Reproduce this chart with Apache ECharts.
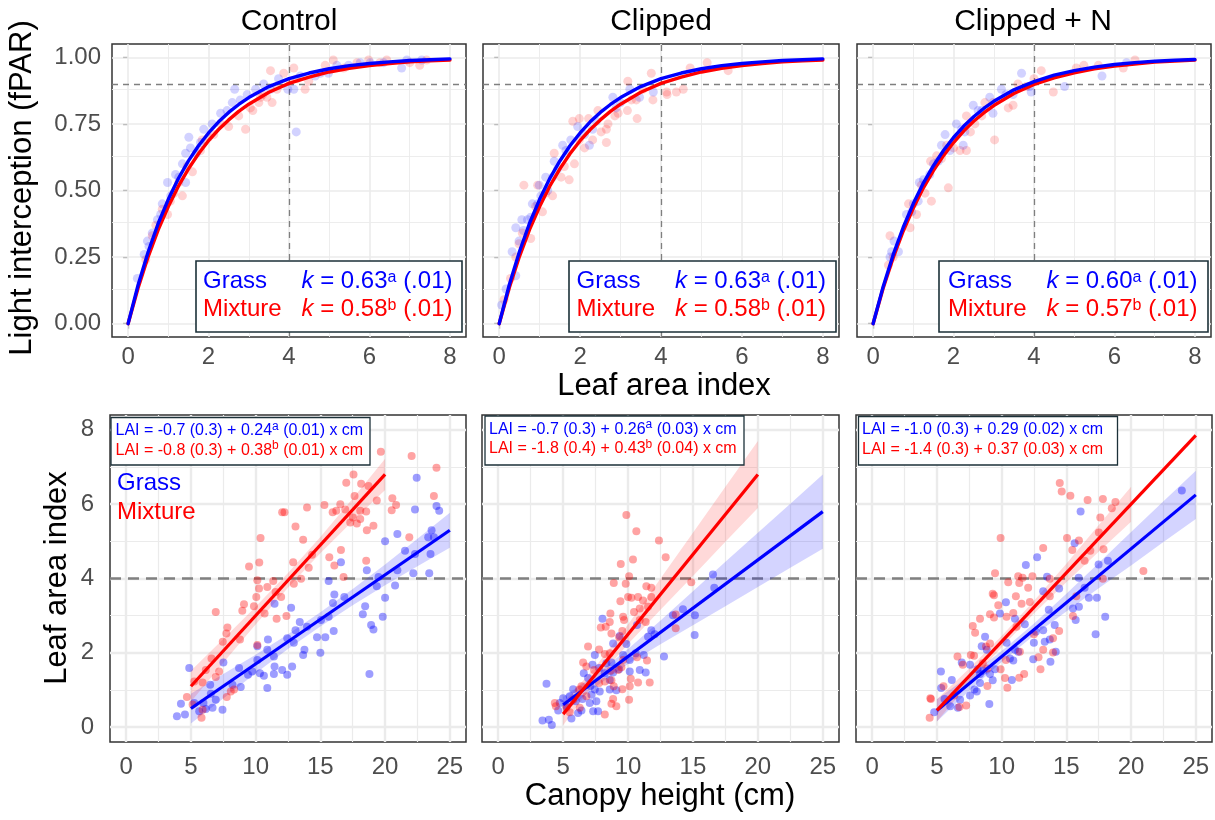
<!DOCTYPE html>
<html>
<head>
<meta charset="UTF-8">
<title>Light interception and LAI</title>
<script src="https://cdn.jsdelivr.net/npm/echarts@6.0.0/dist/echarts.min.js"></script>
</head>
<body style="margin:0; background:#fff">
<div id="container" style="width:1215px; height:820px"></div>
<script>
var FONT = '"Liberation Sans", Arial, Helvetica, sans-serif';
var BLUE = '#0000ff', RED = '#ff0000';

// ---------- top row: fPAR vs LAI ----------
var panelNames = ['Control', 'Clipped', 'Clipped + N'];

var fparX = [0, 0.25, 0.5, 0.75, 1, 1.25, 1.5, 1.75, 2, 2.25, 2.5, 2.75, 3, 3.5, 4, 4.5, 5, 5.5, 6, 6.5, 7, 7.5, 8];
var ctlGrassCurve = [0, 0.146, 0.270, 0.377, 0.467, 0.545, 0.611, 0.668, 0.716, 0.758, 0.793, 0.823, 0.849, 0.890, 0.920, 0.941, 0.957, 0.969, 0.977, 0.983, 0.988, 0.991, 0.994];
var ctlMixCurve = [0, 0.135, 0.252, 0.353, 0.440, 0.516, 0.581, 0.638, 0.687, 0.729, 0.765, 0.797, 0.824, 0.869, 0.902, 0.926, 0.945, 0.959, 0.969, 0.977, 0.983, 0.987, 0.990];
var clpGrassCurve = [0, 0.146, 0.270, 0.377, 0.467, 0.545, 0.611, 0.668, 0.716, 0.758, 0.793, 0.823, 0.849, 0.890, 0.920, 0.941, 0.957, 0.969, 0.977, 0.983, 0.988, 0.991, 0.994];
var clpMixCurve = [0, 0.135, 0.252, 0.353, 0.440, 0.516, 0.581, 0.638, 0.687, 0.729, 0.765, 0.797, 0.824, 0.869, 0.902, 0.926, 0.945, 0.959, 0.969, 0.977, 0.983, 0.987, 0.990];
var cnGrassCurve = [0, 0.139, 0.259, 0.362, 0.451, 0.528, 0.593, 0.650, 0.699, 0.741, 0.777, 0.808, 0.835, 0.878, 0.909, 0.933, 0.950, 0.963, 0.973, 0.980, 0.985, 0.989, 0.992];
var cnMixCurve = [0, 0.133, 0.248, 0.348, 0.434, 0.510, 0.575, 0.631, 0.680, 0.723, 0.760, 0.791, 0.819, 0.864, 0.898, 0.923, 0.942, 0.957, 0.967, 0.975, 0.982, 0.986, 0.990];

var ctlGrassPts = [[0.23,0.17],[0.40,0.26],[0.48,0.31],[0.52,0.29],[0.60,0.34],[0.73,0.39],[0.81,0.41],[0.85,0.45],[0.98,0.53],[1.06,0.48],[1.18,0.56],[1.26,0.55],[1.35,0.60],[1.43,0.53],[1.51,0.70],[1.43,0.64],[1.55,0.66],[1.70,0.64],[1.80,0.68],[1.88,0.73],[2.09,0.75],[2.30,0.79],[2.46,0.80],[2.59,0.83],[2.65,0.88],[2.79,0.84],[2.96,0.86],[3.17,0.88],[3.37,0.90],[3.54,0.88],[3.74,0.92],[3.97,0.88],[4.12,0.88],[4.18,0.72],[4.28,0.93],[4.65,0.93],[4.78,0.94],[4.98,0.94],[5.19,0.97],[5.48,0.97],[5.77,0.98],[6.02,0.98],[6.35,0.98],[6.80,0.96],[6.93,0.99],[7.30,0.99]];
var ctlMixPts = [[0.44,0.24],[0.60,0.33],[0.69,0.37],[0.85,0.43],[0.98,0.41],[1.05,0.46],[1.14,0.49],[1.26,0.53],[1.35,0.48],[1.47,0.59],[1.60,0.57],[1.80,0.65],[1.84,0.69],[2.00,0.70],[2.13,0.71],[2.30,0.75],[2.50,0.74],[2.75,0.78],[2.92,0.73],[3.04,0.81],[3.10,0.80],[3.25,0.83],[3.29,0.85],[3.35,0.86],[3.45,0.85],[3.54,0.95],[3.58,0.83],[3.70,0.88],[3.87,0.94],[4.03,0.91],[4.12,0.96],[4.20,0.92],[4.40,0.88],[4.49,0.91],[4.90,0.97],[5.10,0.99],[5.36,0.96],[5.69,0.98],[5.98,0.99],[6.26,0.98],[6.43,0.99],[7.00,0.98],[7.25,0.97],[7.42,0.99]];
var clpGrassPts = [[0.06,0.07],[0.17,0.13],[0.41,0.18],[0.32,0.27],[0.49,0.31],[0.41,0.36],[0.56,0.39],[0.60,0.35],[0.70,0.39],[0.78,0.40],[0.82,0.45],[0.95,0.45],[1.03,0.48],[0.99,0.52],[1.15,0.55],[1.20,0.50],[1.32,0.55],[1.36,0.61],[1.44,0.58],[1.57,0.67],[1.65,0.65],[1.77,0.69],[1.94,0.74],[2.11,0.71],[2.23,0.67],[2.31,0.73],[2.40,0.76],[2.81,0.85],[2.89,0.81],[3.00,0.83],[3.23,0.88],[3.47,0.85],[3.81,0.87]];
var clpMixPts = [[0.12,0.09],[0.28,0.17],[0.41,0.25],[0.49,0.30],[0.57,0.34],[0.78,0.32],[0.61,0.52],[0.95,0.52],[0.90,0.44],[1.07,0.42],[1.15,0.49],[1.32,0.48],[1.36,0.64],[1.53,0.55],[1.61,0.59],[1.73,0.54],[1.86,0.60],[1.82,0.76],[1.98,0.77],[1.98,0.69],[2.11,0.66],[2.21,0.77],[2.31,0.69],[2.44,0.80],[2.52,0.72],[2.65,0.73],[2.69,0.75],[2.65,0.68],[2.86,0.78],[2.94,0.79],[3.17,0.80],[3.27,0.84],[3.39,0.84],[3.41,0.77],[3.18,0.91],[3.55,0.88],[3.76,0.94],[3.80,0.84],[4.14,0.87],[4.15,0.86],[4.38,0.87],[4.55,0.88],[4.72,0.96],[5.14,0.98],[5.66,0.95]];
var cnGrassPts = [[0.42,0.25],[0.46,0.27],[0.63,0.27],[0.52,0.31],[0.83,0.41],[0.96,0.42],[1.00,0.45],[1.12,0.46],[1.15,0.53],[1.25,0.54],[1.41,0.56],[1.50,0.60],[1.62,0.61],[1.70,0.67],[1.79,0.71],[1.91,0.65],[2.07,0.75],[2.20,0.73],[2.24,0.67],[2.28,0.72],[2.49,0.82],[2.61,0.80],[2.70,0.80],[2.90,0.85],[2.98,0.79],[3.19,0.88],[3.30,0.86],[3.48,0.86],[3.69,0.94],[3.89,0.89],[3.93,0.87],[4.76,0.89],[5.69,0.93],[6.30,0.98]];
var cnMixPts = [[0.38,0.22],[0.42,0.33],[0.50,0.25],[0.88,0.45],[0.92,0.36],[1.08,0.41],[1.20,0.52],[1.29,0.49],[1.45,0.46],[1.43,0.61],[1.58,0.63],[1.70,0.62],[1.87,0.51],[1.83,0.67],[2.00,0.66],[2.16,0.65],[2.32,0.65],[2.42,0.72],[2.53,0.75],[2.32,0.78],[2.70,0.78],[2.78,0.83],[3.02,0.69],[2.98,0.83],[3.36,0.81],[3.48,0.82],[3.60,0.90],[3.81,0.89],[4.00,0.92],[4.18,0.95],[4.48,0.87],[5.05,0.96],[5.24,0.97],[5.60,0.97],[6.22,0.96],[6.51,0.99]];

// k estimates shown in the boxes: [grass k, grass letter, mixture k, mixture letter]
var kLabels = [['0.63', 'a', '0.58', 'b'], ['0.63', 'a', '0.58', 'b'], ['0.60', 'a', '0.57', 'b']];
var kSE = '(.01)';

// ---------- bottom row: LAI vs canopy height ----------
var ctlGrassLai = [[22.44,6.71],[23.97,5.95],[24.18,5.82],[22.31,5.86],[20.0,5.0],[20.95,5.2],[23.59,5.3],[23.33,5.11],[23.77,5.11],[21.54,4.75],[23.51,4.66],[22.31,4.66],[20.95,4.22],[22.18,4.14],[23.41,4.14],[18.59,4.22],[16.59,4.44],[19.49,4.04],[19.36,3.79],[20.77,3.81],[20.0,3.48],[15.64,3.93],[16.08,3.57],[16.85,3.5],[15.97,3.34],[18.46,3.25],[18.28,3.04],[19.82,2.97],[18.92,2.75],[19.1,2.63],[18.79,1.43],[15.64,2.97],[15.05,2.88],[13.41,2.83],[13.08,2.61],[13.97,2.7],[14.74,2.42],[15.38,2.42],[16.03,2.59],[12.44,2.39],[12.95,2.27],[13.77,2.08],[15.0,2.0],[13.67,1.94],[11.46,3.32],[12.74,3.21],[10.95,2.36],[10.13,2.18],[10.9,2.08],[11.41,1.9],[10.13,1.81],[11.46,1.63],[12.82,1.63],[12.05,1.54],[12.44,1.41],[11.41,1.43],[10.64,1.38],[9.74,1.5],[9.41,1.41],[10.33,1.45],[8.72,1.59],[10.9,1.05],[8.85,1.08],[8.21,1.14],[7.51,1.74],[4.87,1.59],[6.49,1.14],[6.54,0.9],[6.92,0.74],[7.44,0.47],[6.67,0.52],[5.97,0.65],[5.26,0.65],[4.23,0.63],[4.54,0.34],[3.92,0.29],[5.64,0.43],[6.15,0.49]];
var ctlMixLai = [[19.67,7.41],[22.05,7.3],[23.97,6.98],[17.56,6.8],[17.0,6.58],[18.15,6.55],[18.72,6.49],[17.64,6.22],[20.56,6.16],[20.85,5.98],[19.36,6.1],[23.77,6.22],[16.54,6.0],[16.92,5.86],[18.08,5.82],[18.54,5.8],[15.95,5.78],[16.23,5.82],[15.31,5.98],[13.97,5.91],[12.05,5.78],[12.23,5.78],[17.51,5.64],[18.08,5.6],[17.31,5.51],[17.82,5.48],[19.1,5.42],[18.59,5.3],[20.51,5.84],[21.87,5.11],[13.08,5.4],[10.38,5.09],[13.67,5.04],[16.59,4.77],[14.36,4.64],[15.69,4.57],[12.9,4.44],[16.08,4.35],[14.1,4.29],[9.49,4.32],[10.28,4.43],[18.54,4.48],[16.79,4.04],[13.51,3.99],[12.95,3.86],[11.36,3.93],[10.9,3.77],[10.26,3.73],[10.13,3.95],[11.54,3.64],[11.97,3.5],[10.05,3.5],[9.1,3.31],[8.97,3.13],[9.87,3.25],[10.69,3.06],[11.62,2.92],[12.38,2.99],[6.92,3.1],[7.82,2.68],[7.74,2.52],[7.46,2.3],[8.79,2.36],[10.13,2.21],[6.59,1.85],[7.18,1.5],[6.15,1.54],[6.92,1.35],[5.9,1.2],[5.26,1.23],[4.69,0.81],[5.13,0.61],[5.9,0.47],[5.82,0.25],[7.77,0.81],[8.08,0.96],[8.33,1.01]];
var clpGrassLai = [[16.54,4.11],[16.64,3.75],[14.23,3.17],[13.46,3.01],[15.15,3.01],[15.13,2.48],[8.03,2.92],[10.69,2.75],[11.79,2.61],[12.05,2.5],[11.54,2.43],[9.36,2.45],[8.85,2.25],[9.87,2.24],[12.77,1.9],[7.44,1.94],[8.33,1.72],[8.72,1.74],[9.62,1.94],[10.13,1.81],[10.59,1.99],[11.21,1.94],[7.26,1.68],[7.77,1.59],[6.59,1.45],[6.92,1.32],[7.1,1.11],[8.21,1.45],[8.59,1.27],[9.31,1.56],[10.13,1.5],[10.9,1.54],[11.36,1.47],[7.82,0.96],[7.44,1.01],[7.18,0.87],[5.77,1.02],[5.51,0.83],[5.0,0.78],[5.97,0.7],[6.49,0.76],[4.74,0.65],[5.26,0.56],[4.62,0.45],[7.05,0.65],[7.56,0.7],[7.31,0.43],[7.69,0.43],[6.41,0.45],[6.15,0.38],[5.64,0.23],[3.72,1.17],[3.41,0.18],[3.9,0.2],[4.13,0.06],[8.59,1.01],[9.1,0.99],[8.85,1.47]];
var clpMixLai = [[9.87,5.71],[10.64,5.27],[12.38,5.02],[12.9,4.57],[9.44,4.39],[10.38,4.51],[10.08,4.06],[8.9,3.88],[9.82,3.86],[14.87,3.9],[11.41,3.79],[11.79,3.75],[10.0,3.5],[10.26,3.48],[10.77,3.5],[11.15,3.41],[11.79,3.5],[9.41,3.39],[11.54,3.24],[10.9,3.19],[10.46,3.1],[8.64,3.06],[9.62,2.97],[9.69,2.88],[10.9,2.88],[11.36,2.83],[8.59,2.83],[7.9,2.68],[8.28,2.7],[8.72,2.52],[9.56,2.59],[9.31,2.42],[13.67,3.03],[13.67,2.66],[6.92,2.17],[7.77,2.09],[8.21,1.97],[8.59,1.99],[6.54,1.74],[6.79,1.63],[7.38,1.54],[8.64,1.52],[9.23,1.54],[9.49,1.61],[11.46,1.79],[10.69,1.88],[9.62,1.81],[7.77,1.19],[8.21,1.23],[8.72,1.26],[8.9,1.1],[9.56,1.02],[10.13,1.1],[10.21,1.3],[10.77,1.2],[11.67,1.2],[6.23,1.01],[6.79,0.83],[6.41,1.1],[10.08,0.74],[8.85,0.76],[8.72,0.63],[9.1,0.56],[4.36,0.65],[4.44,0.56],[5.51,0.4],[5.26,0.52],[6.28,0.52],[8.21,0.34],[5.77,0.74]];
var cnGrassLai = [[23.92,6.37],[16.1,5.8],[15.64,4.95],[17.49,4.38],[18.21,4.48],[12.74,4.57],[11.87,4.36],[13.51,4.05],[15.95,4.02],[16.41,3.75],[14.44,3.73],[13.21,3.66],[16.74,3.48],[17.36,3.48],[15.97,3.24],[15.51,3.19],[15.72,2.88],[18.0,2.97],[17.26,2.5],[13.64,3.16],[14.1,2.75],[13.21,2.61],[9.87,3.06],[10.33,3.36],[11.03,2.92],[11.79,2.77],[12.64,2.57],[13.33,2.3],[13.72,2.36],[12.49,2.27],[14.18,2.03],[8.72,2.43],[8.46,2.18],[8.85,2.08],[10.38,2.27],[11.03,2.08],[11.28,2.03],[10.64,1.85],[10.9,1.79],[12.44,1.83],[13.77,1.76],[6.92,1.74],[7.56,1.68],[8.13,1.56],[8.59,1.52],[9.1,1.43],[9.31,1.26],[8.33,1.19],[7.9,1.01],[7.56,0.85],[8.08,0.96],[6.79,0.74],[6.15,1.27],[5.31,1.5],[5.33,1.05],[5.59,0.76],[6.03,0.56],[6.62,0.52],[4.79,0.4],[9.05,0.62],[10.79,1.27],[8.33,1.43],[9.49,1.56]];
var cnMixLai = [[14.49,6.57],[14.64,6.34],[15.31,6.23],[16.64,6.11],[17.82,6.14],[18.79,6.06],[18.51,5.89],[17.62,5.64],[17.51,5.24],[17.87,4.79],[15.05,5.09],[15.97,5.02],[15.46,4.77],[16.85,4.75],[16.41,4.48],[13.21,4.82],[9.92,5.09],[20.95,4.2],[17.82,3.99],[9.49,4.14],[10.51,3.9],[11.28,4.06],[11.62,4.02],[12.38,4.06],[13.72,3.99],[11.36,3.88],[12.05,3.75],[11.1,3.52],[9.31,3.59],[9.41,3.55],[9.74,3.28],[11.54,3.32],[12.18,3.37],[13.72,3.52],[15.77,3.52],[9.1,3.04],[9.41,2.95],[8.33,2.92],[7.77,2.72],[7.95,2.54],[10.38,2.97],[10.9,3.07],[11.15,2.7],[12.49,2.5],[14.44,2.59],[15.51,2.99],[13.97,2.39],[13.21,2.08],[13.97,2.01],[12.85,1.88],[13.0,1.56],[11.41,2.03],[9.1,2.25],[8.79,2.17],[7.87,1.92],[7.62,1.94],[6.59,1.9],[7.0,1.68],[8.54,1.72],[8.9,1.58],[10.33,1.81],[9.92,1.56],[10.26,1.32],[10.44,1.06],[11.36,1.33],[11.74,1.43],[8.9,1.11],[4.49,0.78],[4.54,0.76],[4.44,0.25],[6.33,0.85],[6.74,0.54],[7.26,0.58],[5.51,1.1]];

// fitted lines (end points) and their confidence bands
var ctlGrassFit = [[5, 0.5], [25, 5.3]];
var ctlMixFit = [[5, 1.1], [20, 6.8]];
var clpGrassFit = [[5, 0.6], [25, 5.8]];
var clpMixFit = [[5, 0.35], [20, 6.8]];
var cnGrassFit = [[5, 0.45], [25, 6.25]];
var cnMixFit = [[5, 0.45], [25, 7.85]];

var bandX25 = [5, 7.5, 10, 12.5, 15, 17.5, 20, 22.5, 25];
var bandX20 = [5, 7.5, 10, 12.5, 15, 17.5, 20];
var ctlGrassLo = [0.1, 0.77, 1.45, 2.1, 2.71, 3.28, 3.82, 4.33, 4.83];
var ctlGrassHi = [0.9, 1.43, 1.95, 2.5, 3.09, 3.72, 4.38, 5.07, 5.77];
var ctlMixLo = [0.68, 1.73, 2.76, 3.75, 4.68, 5.55, 6.38];
var ctlMixHi = [1.52, 2.37, 3.24, 4.15, 5.12, 6.15, 7.22];
var clpGrassLo = [0.38, 1.09, 1.7, 2.23, 2.74, 3.25, 3.77, 4.29, 4.8];
var clpGrassHi = [0.82, 1.41, 2.1, 2.87, 3.66, 4.45, 5.23, 6.01, 6.8];
var clpMixLo = [0.05, 1.23, 2.24, 3.16, 4.07, 4.99, 5.9];
var clpMixHi = [0.65, 1.63, 2.76, 4.0, 5.23, 6.47, 7.7];
var cnGrassLo = [0.15, 0.98, 1.75, 2.47, 3.11, 3.74, 4.35, 4.98, 5.6];
var cnGrassHi = [0.75, 1.38, 2.05, 2.79, 3.59, 4.42, 5.25, 6.08, 6.9];
var cnMixLo = [0.15, 1.18, 2.15, 3.06, 3.9, 4.72, 5.53];
var cnMixHi = [0.75, 1.58, 2.45, 3.4, 4.4, 5.44, 6.47];

// regression equations: [text before superscript, superscript, text after]
var eqGrass = [['LAI = -0.7 (0.3) + 0.24', 'a', ' (0.01) x cm'], ['LAI = -0.7 (0.3) + 0.26', 'a', ' (0.03) x cm'], ['LAI = -1.0 (0.3) + 0.29', '', ' (0.02) x cm']];
var eqMix = [['LAI = -0.8 (0.3) + 0.38', 'b', ' (0.01) x cm'], ['LAI = -1.8 (0.4) + 0.43', 'b', ' (0.04) x cm'], ['LAI = -1.4 (0.3) + 0.37', '', ' (0.03) x cm']];

var topXTicks = [0, 2, 4, 6, 8], topYTicks = [0, 0.25, 0.5, 0.75, 1];
var topXMinor = [1, 3, 5, 7], topYMinor = [0.125, 0.375, 0.625, 0.875];
var botXTicks = [0, 5, 10, 15, 20, 25], botYTicks = [0, 2, 4, 6, 8];
var botXMinor = [2.5, 7.5, 12.5, 17.5, 22.5], botYMinor = [1, 3, 5, 7];

// ---------- layout ----------
var grids = [
    {left: 112, top: 44, width: 354, height: 293},
    {left: 483, top: 44, width: 356, height: 293},
    {left: 857, top: 44, width: 354, height: 293},
    {left: 110, top: 415, width: 356, height: 327},
    {left: 482, top: 415, width: 357, height: 327},
    {left: 856, top: 415, width: 356, height: 327}
];
grids.forEach(function (g) {
    g.show = true;
    g.borderColor = '#333333';
    g.borderWidth = 1.5;
    g.backgroundColor = 'transparent';
    g.containLabel = false;
});

var xAxes = [], yAxes = [];
grids.forEach(function (g, i) {
    var top = i < 3;
    var showY = (i === 0 || i === 3);
    xAxes.push({
        type: 'value', gridIndex: i,
        min: top ? -0.4 : -1.25, max: top ? 8.4 : 26.25,
        axisLine: {show: false},
        axisTick: {show: true, length: top ? 5 : 8, customValues: top ? topXTicks : botXTicks,
            lineStyle: {color: '#333333', width: top ? 1.2 : 1.5}},
        axisLabel: {show: true, customValues: top ? topXTicks : botXTicks, color: '#4d4d4d',
            fontSize: 24, fontFamily: FONT, margin: top ? 8 : 13},
        splitLine: {show: false}
    });
    yAxes.push({
        type: 'value', gridIndex: i,
        min: top ? -0.05 : -0.4, max: top ? 1.05 : 8.4,
        axisLine: {show: false},
        axisTick: {show: true, length: top ? 5 : 8, customValues: top ? topYTicks : botYTicks,
            lineStyle: {color: '#333333', width: top ? 1.2 : 1.5}},
        axisLabel: {show: showY, customValues: top ? topYTicks : botYTicks, color: '#4d4d4d',
            fontSize: 24, fontFamily: FONT, margin: top ? 11 : 16,
            formatter: top ? function (v) { return v.toFixed(2); } : null},
        splitLine: {show: false}
    });
});

function gridLines(top) {
    var majW = top ? 1.6 : 2.4, minW = top ? 0.9 : 1.2;
    var d = [];
    (top ? topXMinor : botXMinor).forEach(function (v) { d.push({xAxis: v, lineStyle: {color: '#ebebeb', width: minW, type: 'solid'}}); });
    (top ? topYMinor : botYMinor).forEach(function (v) { d.push({yAxis: v, lineStyle: {color: '#ebebeb', width: minW, type: 'solid'}}); });
    (top ? topXTicks : botXTicks).forEach(function (v) { d.push({xAxis: v, lineStyle: {color: '#ebebeb', width: majW, type: 'solid'}}); });
    (top ? topYTicks : botYTicks).forEach(function (v) { d.push({yAxis: v, lineStyle: {color: '#ebebeb', width: majW, type: 'solid'}}); });
    if (top) {
        d.push({xAxis: 4, lineStyle: {color: '#7f7f7f', width: 1.3, type: [6, 5]}});
        d.push({yAxis: 0.9, lineStyle: {color: '#7f7f7f', width: 1.3, type: [6, 5]}});
    } else {
        d.push({yAxis: 4, lineStyle: {color: '#808080', width: 2.6, type: [11, 7]}});
    }
    return {silent: true, z: 1, symbol: ['none', 'none'], label: {show: false},
        emphasis: {disabled: true}, animation: false, data: d};
}

function pts(i, data, color, size, withGrid) {
    var s = {type: 'scatter', xAxisIndex: i, yAxisIndex: i, data: data, symbolSize: size,
        itemStyle: {color: color, borderWidth: 0}, silent: true};
    if (withGrid) s.markLine = gridLines(i < 3);
    return s;
}

function curve(i, ys, color) {
    return {type: 'line', xAxisIndex: i, yAxisIndex: i, silent: true,
        data: fparX.map(function (x, j) { return [x, ys[j]]; }),
        showSymbol: false, smooth: false,
        lineStyle: {color: color, width: 3.4, join: 'round', cap: 'round'}};
}

function fitLine(i, data, color) {
    return {type: 'line', xAxisIndex: i, yAxisIndex: i, silent: true, data: data,
        showSymbol: false, lineStyle: {color: color, width: 3.2}};
}

function band(i, xs, lo, hi, color) {
    var rows = xs.map(function (x, j) { return [x, lo[j], hi[j]]; });
    return {type: 'custom', xAxisIndex: i, yAxisIndex: i, silent: true,
        data: rows, encode: {x: 0, y: [1, 2]},
        renderItem: function (params, api) {
            if (params.dataIndex !== 0) return;
            var up = rows.map(function (r) { return api.coord([r[0], r[2]]); });
            var dn = rows.map(function (r) { return api.coord([r[0], r[1]]); }).reverse();
            return {type: 'polygon', shape: {points: up.concat(dn)}, style: {fill: color}};
        }};
}

var grassPts = [ctlGrassPts, clpGrassPts, cnGrassPts];
var mixPts = [ctlMixPts, clpMixPts, cnMixPts];
var grassCurves = [ctlGrassCurve, clpGrassCurve, cnGrassCurve];
var mixCurves = [ctlMixCurve, clpMixCurve, cnMixCurve];
var grassLai = [ctlGrassLai, clpGrassLai, cnGrassLai];
var mixLai = [ctlMixLai, clpMixLai, cnMixLai];
var grassFits = [ctlGrassFit, clpGrassFit, cnGrassFit];
var mixFits = [ctlMixFit, clpMixFit, cnMixFit];
var grassBands = [[bandX25, ctlGrassLo, ctlGrassHi], [bandX25, clpGrassLo, clpGrassHi], [bandX25, cnGrassLo, cnGrassHi]];
var mixBands = [[bandX20, ctlMixLo, ctlMixHi], [bandX20, clpMixLo, clpMixHi], [bandX20, cnMixLo, cnMixHi]];

var series = [];
for (var p = 0; p < 3; p++) {
    series.push(pts(p, mixPts[p], 'rgba(255,0,0,0.22)', 9, true));
    series.push(pts(p, grassPts[p], 'rgba(0,0,255,0.22)', 9, false));
    series.push(curve(p, mixCurves[p], RED));
    series.push(curve(p, grassCurves[p], BLUE));
}
for (var q = 0; q < 3; q++) {
    var gi = q + 3;
    series.push(pts(gi, grassLai[q], 'rgba(0,0,255,0.48)', 8, true));
    series.push(pts(gi, mixLai[q], 'rgba(255,0,0,0.45)', 8, false));
    series.push(band(gi, grassBands[q][0], grassBands[q][1], grassBands[q][2], 'rgba(0,0,255,0.17)'));
    series.push(band(gi, mixBands[q][0], mixBands[q][1], mixBands[q][2], 'rgba(255,0,0,0.15)'));
    series.push(fitLine(gi, grassFits[q], BLUE));
    series.push(fitLine(gi, mixFits[q], RED));
}

// ---------- text ----------
function rich(color, prefix, nameW, size, supSize, supH) {
    var o = {};
    o[prefix + 'n'] = {fill: color, fontSize: size, fontFamily: FONT, width: nameW};
    o[prefix + 'i'] = {fill: color, fontSize: size, fontFamily: FONT, fontStyle: 'italic'};
    o[prefix + 't'] = {fill: color, fontSize: size, fontFamily: FONT};
    o[prefix + 's'] = {fill: color, fontSize: supSize, fontFamily: FONT, verticalAlign: 'top', height: supH};
    return o;
}
var topRich = Object.assign({}, rich(BLUE, 'b', 98.5, 24, 16, 20), rich(RED, 'r', 98.5, 24, 16, 20));
var botRich = Object.assign({}, rich(BLUE, 'b', 0, 16, 12, 11), rich(RED, 'r', 0, 16, 12, 11));

var graphic = [];
function label(x, y, s, size, rot, color, align) {
    graphic.push({type: 'text', x: x, y: y, rotation: rot || 0, silent: true, z: 10,
        style: {text: s, fill: color || '#000', fontSize: size, fontFamily: FONT,
            align: align || 'center', verticalAlign: 'middle'}});
}
label(289, 22, panelNames[0], 30);
label(661, 22, panelNames[1], 30);
label(1033, 22, panelNames[2], 30);
label(22.5, 188, 'Light interception (fPAR)', 31, Math.PI / 2);
label(664, 386, 'Leaf area index', 31);
label(57, 578, 'Leaf area index', 31, Math.PI / 2);
label(660, 796, 'Canopy height (cm)', 31);
label(117, 483, 'Grass', 24, 0, BLUE, 'left');
label(117, 512, 'Mixture', 24, 0, RED, 'left');

var topBoxes = [[196, 261, 266, 71, 203], [569, 261, 267, 71, 576.5], [939, 261, 269, 71, 948]];
topBoxes.forEach(function (b, i) {
    var k = kLabels[i];
    graphic.push({type: 'rect', silent: true, z: 9, shape: {x: b[0], y: b[1], width: b[2], height: b[3]},
        style: {fill: '#ffffff', stroke: '#1c3139', lineWidth: 1.6}});
    graphic.push({type: 'text', x: b[4], y: b[1] + 6.5, silent: true, z: 10,
        style: {text: '{bn|Grass}{bi|k}{bt| = ' + k[0] + '}{bs|' + k[1] + '}{bt| ' + kSE + '}\n' +
                      '{rn|Mixture}{ri|k}{rt| = ' + k[2] + '}{rs|' + k[3] + '}{rt| ' + kSE + '}',
            rich: topRich, fontSize: 24, fontFamily: FONT, lineHeight: 28, align: 'left', verticalAlign: 'top'}});
});

var botBoxes = [[111, 417.5, 259, 47.5, 115.5], [485, 416, 259, 49, 489], [858.5, 416.5, 259, 48.5, 862]];
botBoxes.forEach(function (b, i) {
    var g = eqGrass[i], m = eqMix[i];
    graphic.push({type: 'rect', silent: true, z: 9, shape: {x: b[0], y: b[1], width: b[2], height: b[3]},
        style: {fill: '#ffffff', stroke: '#1c3139', lineWidth: 1.3}});
    var t1 = '{bt|' + g[0] + '}' + (g[1] ? '{bs|' + g[1] + '}' : '') + '{bt|' + g[2] + '}';
    var t2 = '{rt|' + m[0] + '}' + (m[1] ? '{rs|' + m[1] + '}' : '') + '{rt|' + m[2] + '}';
    graphic.push({type: 'text', x: b[4], y: b[1] + 3.5, silent: true, z: 10,
        style: {text: t1 + '\n' + t2, rich: botRich, fontSize: 16, fontFamily: FONT, lineHeight: 19.5,
            align: 'left', verticalAlign: 'top'}});
});

var chart = echarts.init(document.getElementById('container'));
chart.setOption({
    animation: false,
    backgroundColor: '#ffffff',
    grid: grids,
    xAxis: xAxes,
    yAxis: yAxes,
    series: series,
    graphic: graphic
});
</script>
</body>
</html>
